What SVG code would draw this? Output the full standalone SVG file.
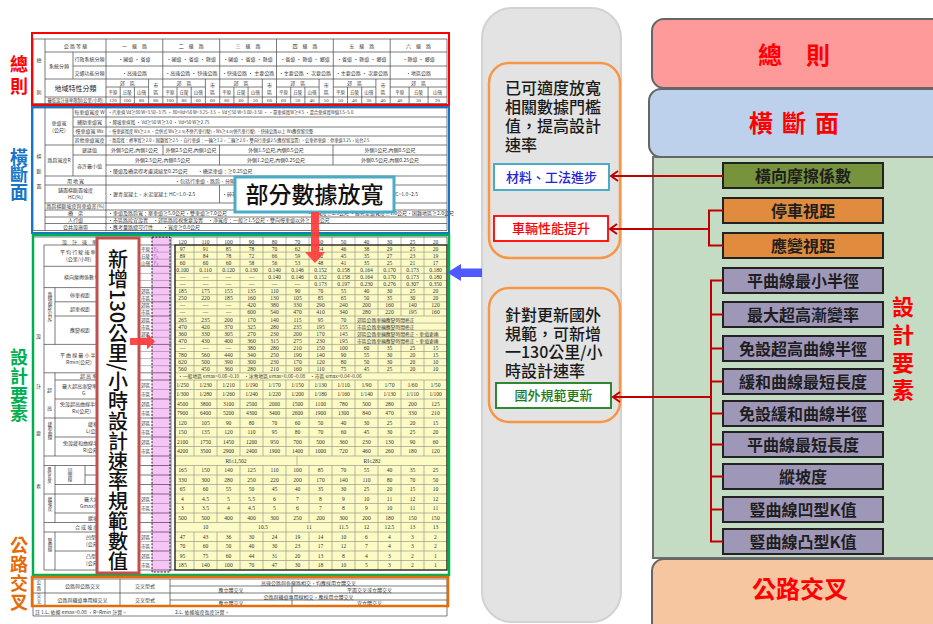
<svg xmlns="http://www.w3.org/2000/svg" width="933" height="624" viewBox="0 0 933 624">
<style>
.cjk{font-family:'Noto Sans CJK TC','Noto Sans CJK SC',sans-serif}
.t{font-family:'Noto Sans CJK TC','Noto Sans CJK SC',sans-serif;font-size:5px;fill:#3a3a3a}
.tm{text-anchor:middle}
.n{font-family:'Liberation Serif','Noto Sans CJK TC',serif;font-size:5.6px;fill:#333;text-anchor:middle}
.g{stroke:#8a8a8a;stroke-width:0.6;fill:none}
.gd{stroke:#444;stroke-width:0.7;fill:none}
.lbl{font-family:'Noto Sans CJK TC','Noto Sans CJK SC',sans-serif;font-size:18px;font-weight:bold;text-anchor:middle}
.nb rect{stroke:#222;stroke-width:2}
.nb text{font-family:'Noto Sans CJK TC','Noto Sans CJK SC',sans-serif;font-size:16px;font-weight:bold;fill:#1e1e1e;text-anchor:middle}
.big{font-family:'Noto Sans CJK TC','Noto Sans CJK SC',sans-serif;font-size:24px;font-weight:bold;fill:#ff0000;text-anchor:middle}
.mt{font-family:'Noto Sans CJK TC','Noto Sans CJK SC',sans-serif;font-size:16px;font-weight:500;fill:#1a1a1a}
.it{font-family:'Noto Sans CJK TC','Noto Sans CJK SC',sans-serif;font-size:13px;font-weight:500;text-anchor:middle}
.conn{stroke:#c00000;stroke-width:2;fill:none}
</style>
<defs>
<marker id="ah" markerWidth="12" markerHeight="12" refX="9" refY="6" orient="auto" markerUnits="userSpaceOnUse">
<path d="M2,1 L9,6 L2,11" fill="none" stroke="#c00000" stroke-width="2"/>
</marker>
</defs>
<rect width="933" height="624" fill="#ffffff"/>

<!-- ===================== LEFT TABLE ===================== -->
<g id="table">
<g id="sec-general">
<path class="gd" d="M33 39H447M45 52H447M73 66H447M45 79H447M106 87H148.6M162.8 87H205.4M219.7 87H262.3M276.5 87H319.1M333.3 87H375.9M390.2 87H447M45 97H447M33 103.5H447M33 39V103.5M45 39V103.5M73 52V79M106 39V103.5M162.8 39V103.5M219.7 39V103.5M276.5 39V103.5M333.3 39V103.5M390.2 39V103.5M447 39V103.5M120.2 87V103.5M134.4 87V103.5M148.6 79V103.5M177 87V103.5M191.2 87V103.5M205.4 79V103.5M233.9 87V103.5M248.1 87V103.5M262.3 79V103.5M290.7 87V103.5M304.9 87V103.5M319.1 79V103.5M347.5 87V103.5M361.7 87V103.5M375.9 79V103.5M409.1 87V103.5M428.1 87V103.5"/>
<text class="t tm" x="39" y="62">總</text><text class="t tm" x="39" y="94">則</text>
<text class="t tm" x="75.5" y="47.5">公 路 等 級</text>
<text class="t tm" y="47.5"><tspan x="134.4">一　級　路</tspan><tspan x="191.3">二　級　路</tspan><tspan x="248.1">三　級　路</tspan><tspan x="304.9">四　級　路</tspan><tspan x="361.8">五　級　路</tspan><tspan x="418.6">六　級　路</tspan></text>
<text class="t tm" x="59" y="67.5">系統分類</text>
<text class="t tm" x="89.5" y="61">行政系統分類</text>
<text class="t tm" x="89.5" y="74.5">交通功能分類</text>
<text class="t tm" y="61"><tspan x="134.4">·國道 · 省道</tspan><tspan x="191.3">·國道 · 省道 · 縣道</tspan><tspan x="248.1">·國道 · 省道 · 縣道</tspan><tspan x="304.9">·省道 · 縣道 · 鄉道</tspan><tspan x="361.8">·省道 · 縣道 · 鄉道</tspan><tspan x="418.6">·縣道 · 鄉道</tspan></text>
<text class="t tm" y="74.5"><tspan x="134.4">·高速公路</tspan><tspan x="191.3">·高速公路 · 快速公路</tspan><tspan x="248.1">·快速公路 · 主要公路</tspan><tspan x="304.9">·主要公路 · 次要公路</tspan><tspan x="361.8">·主要公路 · 次要公路</tspan><tspan x="418.6">·地區公路</tspan></text>
<text class="t tm" x="75.5" y="91" style="font-size:7px;fill:#222">地域特性分類</text>
<text class="t tm" y="84.8"><tspan x="127.3">郊　區</tspan><tspan x="184.1">郊　區</tspan><tspan x="241">郊　區</tspan><tspan x="297.8">郊　區</tspan><tspan x="354.6">郊　區</tspan><tspan x="418.6">郊　區</tspan></text>
<text class="t tm" y="86.5"><tspan x="155.7">市</tspan><tspan x="212.5">市</tspan><tspan x="269.4">市</tspan><tspan x="326.2">市</tspan><tspan x="383">市</tspan></text>
<text class="t tm" y="94"><tspan x="155.7">區</tspan><tspan x="212.5">區</tspan><tspan x="269.4">區</tspan><tspan x="326.2">區</tspan><tspan x="383">區</tspan></text>
<text class="t tm" y="93.5" style="font-size:4.5px"><tspan x="113.1">平原</tspan><tspan x="127.3">丘陵</tspan><tspan x="141.5">山嶺</tspan><tspan x="169.9">平原</tspan><tspan x="184.1">丘陵</tspan><tspan x="198.3">山嶺</tspan><tspan x="226.8">平原</tspan><tspan x="241">丘陵</tspan><tspan x="255.2">山嶺</tspan><tspan x="283.6">平原</tspan><tspan x="297.8">丘陵</tspan><tspan x="312">山嶺</tspan><tspan x="340.4">平原</tspan><tspan x="354.6">丘陵</tspan><tspan x="368.8">山嶺</tspan><tspan x="399.7">平原</tspan><tspan x="418.6">丘陵</tspan><tspan x="437.5">山嶺</tspan></text>
<text class="t tm" x="75.5" y="102" style="font-size:4.3px">最低設計速率限制(公里/小時)</text>
<text class="n" y="102" style="font-size:5px"><tspan x="113.1">120</tspan><tspan x="127.3">100</tspan><tspan x="141.5">80</tspan><tspan x="155.7">80</tspan><tspan x="169.9">100</tspan><tspan x="184.1">80</tspan><tspan x="198.3">60</tspan><tspan x="212.5">60</tspan><tspan x="226.8">80</tspan><tspan x="241">60</tspan><tspan x="255.2">50</tspan><tspan x="269.4">60</tspan><tspan x="283.6">60</tspan><tspan x="297.8">50</tspan><tspan x="312">40</tspan><tspan x="326.2">50</tspan><tspan x="340.4">50</tspan><tspan x="354.6">40</tspan><tspan x="368.8">30</tspan><tspan x="383">40</tspan><tspan x="399.7">40</tspan><tspan x="418.6">30</tspan><tspan x="437.5">20</tspan></text>
</g>

<g id="sec-cross">
<path class="gd" d="M33 108H447M73 117H447M73 127H447M73 136H447M45 145H447M73 155H447M106 165H447M45 176H447M45 185H447M45 203H447M45 210H447M45 217H447M45 223.5H447M33 230.5H447M33 108V230.5M45 108V230.5M73 108V176M106 108V230.5M447 108V230.5M163 145V155M219.5 145V165M333 145V165M219.5 185V203"/>
<text class="t tm" x="39" y="158">橫</text><text class="t tm" x="39" y="173">斷</text><text class="t tm" x="39" y="188">面</text>
<text class="t tm" x="59" y="125">車道寬</text><text class="t tm" x="59" y="132">(公尺)</text>
<text class="t tm" x="89.5" y="114.3">每車道寬度 W</text>
<text class="t tm" x="89.5" y="123.8">輔助車道寬</text>
<text class="t tm" x="89.5" y="133.3">慢車道寬 Ws</text>
<text class="t tm" x="89.5" y="142.3">其他車道寬度</text>
<text class="t" x="108" y="114.3" style="font-size:4.3px">·汽車道 Vd≥80 W=3.50~3.75 · 80&gt;Vd&gt;50 W=3.25~3.5 · Vd≤50 W=3.00~3.50 · ·單車道寬W≥4.5 ·混合車道寬W值3.5~5.0</text>
<text class="t" x="108" y="123.8" style="font-size:4.5px">·爬坡車道寬 · Vd≥50 W≥3.0 · Vd&lt;50 W≥2.75</text>
<text class="t" x="108" y="133.3" style="font-size:4.2px">·慢車道寬度 Ws≥2.8 ·合併式 Ws≥2.5(不併汽車行駛)，Ws≥4.0(併汽車行駛) ·快速公路以上 Ws應保留完整</text>
<text class="t" x="108" y="142.3" style="font-size:4.2px">·路肩寬：標準寬≥2.0，困難寬≥2.5 ·自行車道：一輛≥1.2，二輛≥2.0，雙向行車道2.5(應保留設置) ·公車停車道：停車道3.25，站台2.5</text>
<text class="t tm" x="59" y="162">路肩寬度R</text>
<text class="t tm" x="89.5" y="152">建議值</text>
<text class="t tm" x="89.5" y="167.5">容許最小值</text>
<text class="t tm" y="152"><tspan x="134.5">外側3公尺,內側1公尺</tspan><tspan x="191">外側2.5公尺,內側1公尺</tspan><tspan x="276">外側1.5公尺,內側0.5公尺</tspan><tspan x="390">外側1公尺,內側0.5公尺</tspan></text>
<text class="t tm" y="162"><tspan x="162.7">外側2.5公尺,內側0.5公尺</tspan><tspan x="276">外側1.2公尺,內側0.25公尺</tspan><tspan x="390">外側0.5公尺,內側0.25公尺</tspan></text>
<text class="t" x="108" y="172.5">·隧道及橋梁得考慮減縮至0.25公尺　　·橋梁車道：≥0.25公尺</text>
<text class="t tm" x="75.5" y="182.5">用 地 寬</text>
<text class="t" x="175" y="182.5">·包括行車道、路肩、分隔帶、人行道</text>
<text class="t tm" x="75.5" y="192">鋪面橫斷面坡度</text>
<text class="t tm" x="75.5" y="199">HC(%)</text>
<text class="t" x="108" y="195.5">·瀝青混凝土、水泥混凝土 HC=1.0~2.5</text>
<text class="t" x="222" y="195.5">·碎石路面、其他路面 HC=1.0~2.5</text>
<text class="t" x="418" y="195.5" style="text-anchor:end">HC=1.0~2.5</text>
<text class="t tm" x="75.5" y="208">路肩橫斷坡度與車道差(%)</text>
<text class="t tm" x="75.5" y="215">橋　梁</text>
<text class="t" x="108" y="215">·車道及路肩寬：單車道≥5.0公尺，雙車道≥7.0公尺</text>
<text class="t" x="307" y="215">·淨寬度≥2.5公尺 ·維修走道寬度≥1.0公尺，困難地區≥2.0公尺</text>
<text class="t tm" x="75.5" y="221.8">人行道</text>
<text class="t" x="108" y="221.8">·市區路段宜設置　·郊區路段視需要設置　·淨寬度：一般≥1.5公尺，雙向慢車道以外≥1.25公尺</text>
<text class="t tm" x="75.5" y="228.6">公共設施帶</text>
<text class="t" x="108" y="228.6">·應考量路燈可行性　　·寬度≥0.8公尺</text>
</g>

<g id="sec-design">
<rect x="175" y="245" width="272" height="325" fill="#fdfbc4"/>
<rect x="152" y="237" width="18" height="335" fill="#f6c4f6"/>
<path class="g" d="M175 252.1H447M175 259.2H447M175 266.3H447M175 273.4H447M175 280.5H447M175 287.6H447M175 294.7H447M175 301.8H447M175 308.9H447M175 316H447M175 323.1H447M175 330.2H447M175 337.3H447M175 344.4H447M175 351.5H447M175 358.6H447M175 365.7H447M175 372.8H447M175 380H447M175 389.5H447M175 399H447M175 408.5H447M175 418H447M175 427.5H447M175 437H447M175 446.5H447M175 456H447M175 465.5H447M175 475H447M175 484.5H447M175 494H447M175 503.5H447M175 513H447M175 522.5H447M175 532H447M175 541.5H447M175 551H447M175 560.5H447"/>
<path class="g" d="M194 237V372.8M194 380V456M194 465.5V522.5M194 532V570M217 237V372.8M217 380V456M217 465.5V522.5M217 532V570M240 237V372.8M240 380V456M240 465.5V570M263 237V372.8M263 380V456M263 465.5V522.5M263 532V570M286 237V372.8M286 380V456M286 465.5V570M309 237V372.8M309 380V456M309 465.5V522.5M309 532V570M332 237V372.8M332 380V456M332 465.5V570M355 237V372.8M355 380V456M355 465.5V570M378 237V316M378 344.4V372.8M378 380V456M378 465.5V570M401 237V316M401 344.4V372.8M401 380V456M401 465.5V570M424 237V316M424 344.4V372.8M424 380V456M424 465.5V570M297 456V465.5"/>
<path class="gd" d="M33 237H447M44 245H175M44 266.3H171M44 287.6H171M44 344.4H171M44 372.8H171M44 418H171M44 456H171M44 465.5H171M44 494H171M44 522.5H171M44 532H171M44 570H175M55 301.8H171M55 316H171M55 380H171M55 399H171M55 437H171M55 513H171M55 551H171M55 484.5H171M85 475H171M44 245V570M55 287.6V344.4M55 372.8V456M55 465.5V522.5M55 532V570M85 465.5V484.5M139 237V570M171 237V570M447 237V245"/>
<path class="g" d="M139 252.1H171M139 259.2H171M139 273.4H171M139 280.5H171M139 294.7H171M139 308.9H171M139 323.1H171M139 330.2H171M139 337.3H171M139 351.5H171M139 358.6H171M139 365.7H171M139 389.5H171M139 408.5H171M139 427.5H171M139 446.5H171M139 503.5H171M139 541.5H171M139 560.5H171"/>
<rect x="152" y="237" width="18" height="335" fill="none" stroke="#111" stroke-width="0.9" stroke-dasharray="2,1.4"/>
<rect x="175" y="245" width="272" height="325" fill="none" stroke="#111" stroke-width="1.3"/>
<text class="t tm" x="38.5" y="338">設</text><text class="t tm" x="38.5" y="388">計</text><text class="t tm" x="38.5" y="435">要</text><text class="t tm" x="38.5" y="488">素</text>
<text class="t" x="62" y="243.5">設　計　速　率（公里/小時）</text>
<text class="t" x="60" y="254">平 均 行 駛 速 率</text><text class="t" x="66" y="261">(公里/小時)</text>
<text class="t" x="64" y="279">橫向摩擦係數 f</text>
<text class="t" x="50" y="292" style="writing-mode:vertical-rl;font-size:4.5px">路線視距(公尺)</text>
<text class="t" x="70" y="296.7">停車視距</text><text class="t" x="70" y="310.9">超車視距</text><text class="t" x="70" y="332">應變視距</text>
<text class="t" x="60" y="357">平 曲 線 最 小 半 徑</text><text class="t" x="66" y="364">Rmin(公尺)</text>
<text class="t tm" x="49.5" y="392">超</text><text class="t tm" x="49.5" y="410">高</text>
<text class="t" x="80" y="378.3">超 高 率</text>
<text class="t" x="62" y="388">最大超高漸變率</text><text class="t" x="82" y="395">G</text>
<text class="t" x="60" y="406">免設超高曲線半徑</text><text class="t" x="72" y="413">Rs(公尺)</text>
<text class="t" x="50" y="422" style="writing-mode:vertical-rl;font-size:4.5px">緩和曲線</text>
<text class="t" x="88" y="425.5">緩和曲線最短長度</text><text class="t" x="86" y="432.5">L(公尺)</text>
<text class="t" x="63" y="444.5">免設緩和曲線半徑</text><text class="t" x="83" y="451.5">R(公尺)</text>
<text class="t" x="49.5" y="467" style="writing-mode:vertical-rl;font-size:4px">最短長度</text>
<text class="t" x="70" y="468" style="writing-mode:vertical-rl;font-size:4.5px">回曲線</text>
<text class="t" x="50" y="497" style="writing-mode:vertical-rl;font-size:4.5px">縱坡度</text>
<text class="t" x="84" y="500.7">最大縱坡度</text><text class="t" x="80" y="508">Gmax(%)</text>
<text class="t" x="88" y="519.7">縱坡長度限制</text>
<text class="t" x="75" y="529.2">合 成 坡 度</text>
<text class="t" x="50" y="538" style="writing-mode:vertical-rl;font-size:4.5px">豎曲線</text>
<text class="t" x="86" y="538.7">凹型K值</text><text class="t" x="86" y="546">(公尺)</text>
<text class="t" x="86" y="557.7">凸型K值</text><text class="t" x="86" y="565">(公尺)</text>
<text class="t tm" style="font-size:4.5px"><tspan x="145.5" y="250.5">平原</tspan><tspan x="145.5" y="257.6">丘陵</tspan><tspan x="145.5" y="264.7">山嶺</tspan><tspan x="145.5" y="293.1">郊區</tspan><tspan x="145.5" y="300.2">市區</tspan><tspan x="145.5" y="307.3">郊區</tspan><tspan x="145.5" y="314.4">市區</tspan><tspan x="145.5" y="321.5">郊區</tspan><tspan x="145.5" y="328.6">市區</tspan><tspan x="145.5" y="335.7">郊區</tspan><tspan x="145.5" y="342.8">市區</tspan><tspan x="145.5" y="386.7">郊區</tspan><tspan x="145.5" y="396.2">市區</tspan><tspan x="145.5" y="405.7">郊區</tspan><tspan x="145.5" y="415.2">市區</tspan><tspan x="145.5" y="424.7">郊區</tspan><tspan x="145.5" y="434.2">市區</tspan><tspan x="145.5" y="443.7">郊區</tspan><tspan x="145.5" y="453.2">市區</tspan><tspan x="145.5" y="500.7">郊區</tspan><tspan x="145.5" y="510.2">市區</tspan><tspan x="145.5" y="538.7">郊區</tspan><tspan x="145.5" y="548.2">市區</tspan><tspan x="145.5" y="557.7">郊區</tspan><tspan x="145.5" y="567.2">市區</tspan></text>
<text class="t" style="fill:#9933cc;font-size:4.5px"><tspan x="154" y="250.5">F₁</tspan><tspan x="154" y="257.6">F₂</tspan><tspan x="154" y="264.7">F₃</tspan></text>
<text class="n" y="243.5"><tspan x="182.5">120</tspan><tspan x="205.5">110</tspan><tspan x="228.5">100</tspan><tspan x="251.5">90</tspan><tspan x="274.5">80</tspan><tspan x="297.5">70</tspan><tspan x="320.5">60</tspan><tspan x="343.5">50</tspan><tspan x="366.5">40</tspan><tspan x="389.5">30</tspan><tspan x="412.5">25</tspan><tspan x="435.5">20</tspan></text>
<text class="n" y="250.5"><tspan x="182.5">97</tspan><tspan x="205.5">91</tspan><tspan x="228.5">85</tspan><tspan x="251.5">78</tspan><tspan x="274.5">70</tspan><tspan x="297.5">62</tspan><tspan x="320.5">54</tspan><tspan x="343.5">46</tspan><tspan x="366.5">38</tspan><tspan x="389.5">29</tspan><tspan x="412.5">25</tspan><tspan x="435.5">20</tspan></text>
<text class="n" y="257.6"><tspan x="182.5">89</tspan><tspan x="205.5">84</tspan><tspan x="228.5">78</tspan><tspan x="251.5">72</tspan><tspan x="274.5">66</tspan><tspan x="297.5">59</tspan><tspan x="320.5">52</tspan><tspan x="343.5">45</tspan><tspan x="366.5">35</tspan><tspan x="389.5">27</tspan><tspan x="412.5">23</tspan><tspan x="435.5">19</tspan></text>
<text class="n" y="264.7"><tspan x="182.5">60</tspan><tspan x="205.5">60</tspan><tspan x="228.5">60</tspan><tspan x="251.5">58</tspan><tspan x="274.5">56</tspan><tspan x="297.5">53</tspan><tspan x="320.5">48</tspan><tspan x="343.5">41</tspan><tspan x="366.5">35</tspan><tspan x="389.5">25</tspan><tspan x="412.5">21</tspan><tspan x="435.5">17</tspan></text>
<text class="n" y="271.8"><tspan x="182.5">0.100</tspan><tspan x="205.5">0.110</tspan><tspan x="228.5">0.120</tspan><tspan x="251.5">0.130</tspan><tspan x="274.5">0.140</tspan><tspan x="297.5">0.146</tspan><tspan x="320.5">0.152</tspan><tspan x="343.5">0.158</tspan><tspan x="366.5">0.164</tspan><tspan x="389.5">0.170</tspan><tspan x="412.5">0.173</tspan><tspan x="435.5">0.180</tspan></text>
<text class="n" y="278.9"><tspan x="182.5">—</tspan><tspan x="205.5">—</tspan><tspan x="228.5">—</tspan><tspan x="251.5">—</tspan><tspan x="274.5">0.140</tspan><tspan x="297.5">0.146</tspan><tspan x="320.5">0.152</tspan><tspan x="343.5">0.158</tspan><tspan x="366.5">0.164</tspan><tspan x="389.5">0.170</tspan><tspan x="412.5">0.173</tspan><tspan x="435.5">0.180</tspan></text>
<text class="n" y="286"><tspan x="182.5">—</tspan><tspan x="205.5">—</tspan><tspan x="228.5">—</tspan><tspan x="251.5">—</tspan><tspan x="274.5">—</tspan><tspan x="297.5">—</tspan><tspan x="320.5">0.173</tspan><tspan x="343.5">0.197</tspan><tspan x="366.5">0.230</tspan><tspan x="389.5">0.276</tspan><tspan x="412.5">0.307</tspan><tspan x="435.5">0.350</tspan></text>
<text class="n" y="293.1"><tspan x="182.5">185</tspan><tspan x="205.5">175</tspan><tspan x="228.5">155</tspan><tspan x="251.5">135</tspan><tspan x="274.5">110</tspan><tspan x="297.5">90</tspan><tspan x="320.5">70</tspan><tspan x="343.5">55</tspan><tspan x="366.5">40</tspan><tspan x="389.5">30</tspan><tspan x="412.5">25</tspan><tspan x="435.5">20</tspan></text>
<text class="n" y="300.2"><tspan x="182.5">250</tspan><tspan x="205.5">220</tspan><tspan x="228.5">185</tspan><tspan x="251.5">160</tspan><tspan x="274.5">130</tspan><tspan x="297.5">105</tspan><tspan x="320.5">85</tspan><tspan x="343.5">65</tspan><tspan x="366.5">50</tspan><tspan x="389.5">35</tspan><tspan x="412.5">30</tspan><tspan x="435.5">20</tspan></text>
<text class="n" y="307.3"><tspan x="182.5">—</tspan><tspan x="205.5">—</tspan><tspan x="228.5">—</tspan><tspan x="251.5">420</tspan><tspan x="274.5">380</tspan><tspan x="297.5">330</tspan><tspan x="320.5">290</tspan><tspan x="343.5">240</tspan><tspan x="366.5">200</tspan><tspan x="389.5">160</tspan><tspan x="412.5">140</tspan><tspan x="435.5">120</tspan></text>
<text class="n" y="314.4"><tspan x="182.5">—</tspan><tspan x="205.5">—</tspan><tspan x="228.5">—</tspan><tspan x="251.5">600</tspan><tspan x="274.5">540</tspan><tspan x="297.5">470</tspan><tspan x="320.5">410</tspan><tspan x="343.5">340</tspan><tspan x="366.5">280</tspan><tspan x="389.5">220</tspan><tspan x="412.5">195</tspan><tspan x="435.5">160</tspan></text>
<text class="n" y="321.5"><tspan x="182.5">265</tspan><tspan x="205.5">235</tspan><tspan x="228.5">200</tspan><tspan x="251.5">170</tspan><tspan x="274.5">140</tspan><tspan x="297.5">115</tspan><tspan x="320.5">95</tspan><tspan x="343.5">70</tspan></text>
<text class="n" y="328.6"><tspan x="182.5">470</tspan><tspan x="205.5">420</tspan><tspan x="228.5">370</tspan><tspan x="251.5">325</tspan><tspan x="274.5">280</tspan><tspan x="297.5">235</tspan><tspan x="320.5">195</tspan><tspan x="343.5">155</tspan></text>
<text class="n" y="335.7"><tspan x="182.5">360</tspan><tspan x="205.5">330</tspan><tspan x="228.5">305</tspan><tspan x="251.5">270</tspan><tspan x="274.5">230</tspan><tspan x="297.5">200</tspan><tspan x="320.5">170</tspan><tspan x="343.5">145</tspan></text>
<text class="n" y="342.8"><tspan x="182.5">470</tspan><tspan x="205.5">430</tspan><tspan x="228.5">400</tspan><tspan x="251.5">360</tspan><tspan x="274.5">315</tspan><tspan x="297.5">275</tspan><tspan x="320.5">230</tspan><tspan x="343.5">195</tspan></text>
<text class="t" style="font-size:4.8px"><tspan x="357" y="321.5">郊區公路車輛應變時間修正</tspan><tspan x="357" y="328.6">市區公路車輛應變時間修正</tspan><tspan x="357" y="335.7">郊區公路車輛應變時間修正、車道更換</tspan><tspan x="357" y="342.8">市區公路車輛應變時間修正、車道更換</tspan></text>
<text class="n" y="349.9"><tspan x="182.5">—</tspan><tspan x="205.5">—</tspan><tspan x="228.5">—</tspan><tspan x="251.5">380</tspan><tspan x="274.5">280</tspan><tspan x="297.5">210</tspan><tspan x="320.5">150</tspan><tspan x="343.5">100</tspan><tspan x="366.5">60</tspan><tspan x="389.5">35</tspan><tspan x="412.5">25</tspan><tspan x="435.5">15</tspan></text>
<text class="n" y="357"><tspan x="182.5">780</tspan><tspan x="205.5">560</tspan><tspan x="228.5">440</tspan><tspan x="251.5">340</tspan><tspan x="274.5">250</tspan><tspan x="297.5">190</tspan><tspan x="320.5">140</tspan><tspan x="343.5">90</tspan><tspan x="366.5">55</tspan><tspan x="389.5">30</tspan><tspan x="412.5">20</tspan><tspan x="435.5">15</tspan></text>
<text class="n" y="364.1"><tspan x="182.5">620</tspan><tspan x="205.5">500</tspan><tspan x="228.5">390</tspan><tspan x="251.5">300</tspan><tspan x="274.5">230</tspan><tspan x="297.5">170</tspan><tspan x="320.5">120</tspan><tspan x="343.5">80</tspan><tspan x="366.5">50</tspan><tspan x="389.5">30</tspan><tspan x="412.5">20</tspan><tspan x="435.5">10</tspan></text>
<text class="n" y="371.2"><tspan x="182.5">560</tspan><tspan x="205.5">450</tspan><tspan x="228.5">360</tspan><tspan x="251.5">280</tspan><tspan x="274.5">210</tspan><tspan x="297.5">160</tspan><tspan x="320.5">110</tspan><tspan x="343.5">75</tspan><tspan x="366.5">45</tspan><tspan x="389.5">25</tspan><tspan x="412.5">20</tspan><tspan x="435.5">10</tspan></text>
<text class="t" x="178" y="378.3" style="font-size:4.8px">·一般地區 emax=0.06~0.10　·冰雪地區 emax=0.06~0.08　·市區 emax=0.04~0.06</text>
<text class="n" y="386.7"><tspan x="182.5">1/250</tspan><tspan x="205.5">1/230</tspan><tspan x="228.5">1/210</tspan><tspan x="251.5">1/190</tspan><tspan x="274.5">1/170</tspan><tspan x="297.5">1/150</tspan><tspan x="320.5">1/130</tspan><tspan x="343.5">1/110</tspan><tspan x="366.5">1/90</tspan><tspan x="389.5">1/70</tspan><tspan x="412.5">1/60</tspan><tspan x="435.5">1/50</tspan></text>
<text class="n" y="396.2"><tspan x="182.5">1/300</tspan><tspan x="205.5">1/280</tspan><tspan x="228.5">1/260</tspan><tspan x="251.5">1/240</tspan><tspan x="274.5">1/220</tspan><tspan x="297.5">1/200</tspan><tspan x="320.5">1/180</tspan><tspan x="343.5">1/160</tspan><tspan x="366.5">1/140</tspan><tspan x="389.5">1/130</tspan><tspan x="412.5">1/110</tspan><tspan x="435.5">1/100</tspan></text>
<text class="n" y="405.7"><tspan x="182.5">4500</tspan><tspan x="205.5">3800</tspan><tspan x="228.5">3100</tspan><tspan x="251.5">2500</tspan><tspan x="274.5">2000</tspan><tspan x="297.5">1500</tspan><tspan x="320.5">1100</tspan><tspan x="343.5">780</tspan><tspan x="366.5">500</tspan><tspan x="389.5">280</tspan><tspan x="412.5">200</tspan><tspan x="435.5">125</tspan></text>
<text class="n" y="415.2"><tspan x="182.5">7900</tspan><tspan x="205.5">6400</tspan><tspan x="228.5">5200</tspan><tspan x="251.5">4300</tspan><tspan x="274.5">3400</tspan><tspan x="297.5">2600</tspan><tspan x="320.5">1900</tspan><tspan x="343.5">1300</tspan><tspan x="366.5">840</tspan><tspan x="389.5">470</tspan><tspan x="412.5">330</tspan><tspan x="435.5">210</tspan></text>
<text class="n" y="424.7"><tspan x="182.5">120</tspan><tspan x="205.5">105</tspan><tspan x="228.5">90</tspan><tspan x="251.5">80</tspan><tspan x="274.5">70</tspan><tspan x="297.5">60</tspan><tspan x="320.5">50</tspan><tspan x="343.5">40</tspan><tspan x="366.5">30</tspan><tspan x="389.5">25</tspan><tspan x="412.5">20</tspan><tspan x="435.5">15</tspan></text>
<text class="n" y="434.2"><tspan x="182.5">150</tspan><tspan x="205.5">135</tspan><tspan x="228.5">120</tspan><tspan x="251.5">110</tspan><tspan x="274.5">95</tspan><tspan x="297.5">80</tspan><tspan x="320.5">70</tspan><tspan x="343.5">60</tspan><tspan x="366.5">45</tspan><tspan x="389.5">30</tspan><tspan x="412.5">25</tspan><tspan x="435.5">20</tspan></text>
<text class="n" y="443.7"><tspan x="182.5">2100</tspan><tspan x="205.5">1750</tspan><tspan x="228.5">1450</tspan><tspan x="251.5">1200</tspan><tspan x="274.5">950</tspan><tspan x="297.5">700</tspan><tspan x="320.5">500</tspan><tspan x="343.5">360</tspan><tspan x="366.5">230</tspan><tspan x="389.5">130</tspan><tspan x="412.5">90</tspan><tspan x="435.5">60</tspan></text>
<text class="n" y="453.2"><tspan x="182.5">4200</tspan><tspan x="205.5">3500</tspan><tspan x="228.5">2900</tspan><tspan x="251.5">2400</tspan><tspan x="274.5">1900</tspan><tspan x="297.5">1400</tspan><tspan x="320.5">1000</tspan><tspan x="343.5">720</tspan><tspan x="366.5">460</tspan><tspan x="389.5">260</tspan><tspan x="412.5">180</tspan><tspan x="435.5">120</tspan></text>
<text class="n" y="462.7"><tspan x="236">RI≤1,502</tspan><tspan x="372">RI≤282</tspan></text>
<text class="n" y="472.2"><tspan x="182.5">165</tspan><tspan x="205.5">150</tspan><tspan x="228.5">140</tspan><tspan x="251.5">125</tspan><tspan x="274.5">110</tspan><tspan x="297.5">100</tspan><tspan x="320.5">85</tspan><tspan x="343.5">70</tspan><tspan x="366.5">55</tspan><tspan x="389.5">40</tspan><tspan x="412.5">35</tspan><tspan x="435.5">25</tspan></text>
<text class="n" y="481.7"><tspan x="182.5">330</tspan><tspan x="205.5">300</tspan><tspan x="228.5">280</tspan><tspan x="251.5">250</tspan><tspan x="274.5">220</tspan><tspan x="297.5">200</tspan><tspan x="320.5">170</tspan><tspan x="343.5">140</tspan><tspan x="366.5">110</tspan><tspan x="389.5">80</tspan><tspan x="412.5">70</tspan><tspan x="435.5">50</tspan></text>
<text class="n" y="491.2"><tspan x="182.5">65</tspan><tspan x="205.5">60</tspan><tspan x="228.5">55</tspan><tspan x="251.5">50</tspan><tspan x="274.5">45</tspan><tspan x="297.5">40</tspan><tspan x="320.5">35</tspan><tspan x="343.5">30</tspan><tspan x="366.5">25</tspan><tspan x="389.5">20</tspan><tspan x="412.5">15</tspan><tspan x="435.5">10</tspan></text>
<text class="n" y="500.7"><tspan x="182.5">4</tspan><tspan x="205.5">4.5</tspan><tspan x="228.5">5</tspan><tspan x="251.5">5.5</tspan><tspan x="274.5">6</tspan><tspan x="297.5">7</tspan><tspan x="320.5">8</tspan><tspan x="343.5">9</tspan><tspan x="366.5">10</tspan><tspan x="389.5">11</tspan><tspan x="412.5">12</tspan><tspan x="435.5">12</tspan></text>
<text class="n" y="510.2"><tspan x="182.5">3</tspan><tspan x="205.5">3.5</tspan><tspan x="228.5">4</tspan><tspan x="251.5">4.5</tspan><tspan x="274.5">5</tspan><tspan x="297.5">6</tspan><tspan x="320.5">7</tspan><tspan x="343.5">8</tspan><tspan x="366.5">9</tspan><tspan x="389.5">10</tspan><tspan x="412.5">11</tspan><tspan x="435.5">11</tspan></text>
<text class="n" y="519.7"><tspan x="182.5">500</tspan><tspan x="205.5">500</tspan><tspan x="228.5">400</tspan><tspan x="251.5">400</tspan><tspan x="274.5">300</tspan><tspan x="297.5">250</tspan><tspan x="320.5">200</tspan><tspan x="343.5">300</tspan><tspan x="366.5">200</tspan><tspan x="389.5">180</tspan><tspan x="412.5">150</tspan><tspan x="435.5">150</tspan></text>
<text class="n" y="529.2"><tspan x="205.5">10</tspan><tspan x="263">10.5</tspan><tspan x="309">11</tspan><tspan x="343.5">11.5</tspan><tspan x="366.5">12</tspan><tspan x="389.5">12.5</tspan><tspan x="412.5">13</tspan><tspan x="435.5">13</tspan></text>
<text class="n" y="538.7"><tspan x="182.5">47</tspan><tspan x="205.5">43</tspan><tspan x="228.5">36</tspan><tspan x="251.5">30</tspan><tspan x="274.5">24</tspan><tspan x="297.5">19</tspan><tspan x="320.5">14</tspan><tspan x="343.5">10</tspan><tspan x="366.5">6</tspan><tspan x="389.5">4</tspan><tspan x="412.5">3</tspan><tspan x="435.5">2</tspan></text>
<text class="n" y="548.2"><tspan x="182.5">70</tspan><tspan x="205.5">60</tspan><tspan x="228.5">50</tspan><tspan x="251.5">40</tspan><tspan x="274.5">30</tspan><tspan x="297.5">23</tspan><tspan x="320.5">17</tspan><tspan x="343.5">12</tspan><tspan x="366.5">7</tspan><tspan x="389.5">4</tspan><tspan x="412.5">3</tspan><tspan x="435.5">2</tspan></text>
<text class="n" y="557.7"><tspan x="182.5">95</tspan><tspan x="205.5">75</tspan><tspan x="228.5">60</tspan><tspan x="251.5">44</tspan><tspan x="274.5">31</tspan><tspan x="297.5">20</tspan><tspan x="320.5">13</tspan><tspan x="343.5">8</tspan><tspan x="366.5">4</tspan><tspan x="389.5">3</tspan><tspan x="412.5">2</tspan><tspan x="435.5">1</tspan></text>
<text class="n" y="567.2"><tspan x="182.5">185</tspan><tspan x="205.5">140</tspan><tspan x="228.5">100</tspan><tspan x="251.5">70</tspan><tspan x="274.5">47</tspan><tspan x="297.5">30</tspan><tspan x="320.5">18</tspan><tspan x="343.5">10</tspan><tspan x="366.5">5</tspan><tspan x="389.5">3</tspan><tspan x="412.5">2</tspan><tspan x="435.5">1</tspan></text>
</g>

<g id="sec-intersection">
<path class="gd" d="M33 579H447M170 586H447M33 593H447M170 600H447M33 606H447M33 579V606M45 579V606M120 579V606M170 579V606M447 579V606M292 586V593M292 600V606M33 616H447M33 606V616M447 606V616"/>
<text class="t tm" style="font-size:4.3px"><tspan x="39" y="584">公</tspan><tspan x="39" y="590">路</tspan><tspan x="39" y="597">交</tspan><tspan x="39" y="603">叉</tspan></text>
<text class="t tm" x="82.5" y="588">公路與公路交叉</text>
<text class="t tm" x="145" y="588">交叉型式</text>
<text class="t tm" x="308.5" y="584.5">高速公路與各級路相交，均應採用立體交叉</text>
<text class="t tm" x="231" y="591.5">應立體交叉</text>
<text class="t tm" x="369.5" y="591.5">平面交叉或立體交叉</text>
<text class="t tm" x="82.5" y="602">公路與鐵道專用線交叉</text>
<text class="t tm" x="145" y="602">交叉型式</text>
<text class="t tm" x="308.5" y="598.5">公路與鐵道專用線相交，應採用立體交叉</text>
<text class="t tm" x="231" y="605">應立體交叉</text>
<text class="t tm" x="369.5" y="605">宜立體交叉</text>
<text class="t" x="35" y="614">註 1.L. 依據 emax=0.08 ，R=Rmin 計算。</text>
<text class="t" x="175" y="614">2.L. 依據坡度長度計算。</text>
</g>

<rect x="32" y="33" width="417" height="72" fill="none" stroke="#ff0000" stroke-width="2"/>
<rect x="32" y="107" width="417" height="126" fill="none" stroke="#1874c8" stroke-width="2"/>
<rect x="33" y="235" width="416" height="340" fill="none" stroke="#00b050" stroke-width="2.5"/>
<rect x="32" y="577" width="416" height="29" fill="none" stroke="#e46c0a" stroke-width="2.5"/>
</g>

<g id="left-labels">
<text class="lbl" fill="#ff0000"><tspan x="19" y="71">總</tspan><tspan x="19" y="93">則</tspan></text>
<text class="lbl" fill="#1874c8"><tspan x="19" y="163.5">橫</tspan><tspan x="19" y="181">斷</tspan><tspan x="19" y="198.5">面</tspan></text>
<text class="lbl" fill="#00b050"><tspan x="19" y="363.5">設</tspan><tspan x="19" y="383">計</tspan><tspan x="19" y="401.5">要</tspan><tspan x="19" y="420">素</tspan></text>
<text class="lbl" fill="#e46c0a"><tspan x="19" y="551.5">公</tspan><tspan x="19" y="570.5">路</tspan><tspan x="19" y="589.5">交</tspan><tspan x="19" y="608.5">叉</tspan></text>
</g>

<g id="callout-relax">
<rect x="235" y="177" width="159" height="35" fill="#ffffff" stroke="#4bacc6" stroke-width="3"/>
<text class="cjk" x="314.5" y="203" font-size="23" font-weight="500" text-anchor="middle" fill="#111">部分數據放寬</text>
</g>
<g id="callout-new130">
<rect x="97" y="238" width="42" height="335" fill="#ffffff" stroke="#c0504d" stroke-width="3"/>
<text class="cjk" x="118" y="249" font-size="20" font-weight="500" fill="#111" style="writing-mode:vertical-rl">新增130公里/小時設計速率規範數值</text>
</g>

<g id="middle-panel">
<rect x="482" y="8" width="139" height="614" rx="30" fill="#e3e3e3" stroke="#d2d2d2" stroke-width="2"/>
</g>
<g id="reason-relax">
<rect x="489" y="63" width="131" height="195" rx="20" fill="none" stroke="#f79646" stroke-width="2.5"/>
<text class="mt"><tspan x="505" y="94">已可適度放寬</tspan><tspan x="505" y="113">相關數據門檻</tspan><tspan x="505" y="132">值，提高設計</tspan><tspan x="505" y="151">速率</tspan></text>
</g>
<g id="n-material">
<rect x="494" y="164" width="115" height="26" fill="#ffffff" stroke="#4bacc6" stroke-width="2"/>
<text class="it" x="551.5" y="181.5" fill="#2323d6">材料、工法進步</text>
</g>
<g id="n-vehicle">
<rect x="494" y="216" width="114" height="25" fill="#ffffff" stroke="#ff0000" stroke-width="1.8"/>
<text class="it" x="551" y="233" fill="#ff0000">車輛性能提升</text>
</g>
<g id="reason-new">
<rect x="489" y="288" width="131" height="134" rx="20" fill="none" stroke="#f79646" stroke-width="2.5"/>
<text class="mt"><tspan x="505" y="321">針對更新國外</tspan><tspan x="505" y="339.5">規範，可新增</tspan><tspan x="505" y="358">一130公里/小</tspan><tspan x="505" y="376.5">時設計速率</tspan></text>
</g>
<g id="n-foreign">
<rect x="496" y="383" width="115" height="25" fill="#ffffff" stroke="#1e7b1e" stroke-width="1.8"/>
<text class="it" x="553.5" y="400" fill="#1e7b1e">國外規範更新</text>
</g>

<g id="band-design">
<rect x="653" y="157" width="300" height="401" fill="#c4dbc4" stroke="#707070" stroke-width="2"/>
<text class="big" style="font-size:22px"><tspan x="903" y="315">設</tspan><tspan x="903" y="343">計</tspan><tspan x="903" y="371">要</tspan><tspan x="903" y="398">素</tspan></text>
</g>
<g id="band-general">
<rect x="652" y="19" width="300" height="69" rx="12" fill="#fe9a9a" stroke="#666" stroke-width="2"/>
<text class="big"><tspan x="770" y="64">總</tspan><tspan x="818" y="64">則</tspan></text>
</g>
<g id="band-cross">
<rect x="649" y="89" width="303" height="68" rx="12" fill="#bdd0ec" stroke="#666" stroke-width="2"/>
<text class="big"><tspan x="761" y="132">橫</tspan><tspan x="794" y="132">斷</tspan><tspan x="827" y="132">面</tspan></text>
</g>
<g id="band-intersection">
<rect x="652" y="559" width="300" height="80" rx="12" fill="#f5c6a0" stroke="#666" stroke-width="2"/>
<text class="big" x="800" y="598">公路交叉</text>
</g>

<g id="n-friction" class="nb"><rect x="723" y="163" width="160" height="25" fill="#77933c"/><text x="803" y="181.5">橫向摩擦係數</text></g>
<g id="n-stop" class="nb"><rect x="723" y="198" width="160" height="25" fill="#e08b3d"/><text x="803" y="216.5">停車視距</text></g>
<g id="n-decision" class="nb"><rect x="723" y="233" width="160" height="25" fill="#e08b3d"/><text x="803" y="251.5">應變視距</text></g>
<g id="n-rmin" class="nb"><rect x="723" y="268" width="160" height="25" fill="#9e97b8"/><text x="803" y="286.5">平曲線最小半徑</text></g>
<g id="n-superrate" class="nb"><rect x="723" y="302" width="160" height="25" fill="#9e97b8"/><text x="803" y="320.5">最大超高漸變率</text></g>
<g id="n-nosuper" class="nb"><rect x="723" y="336" width="160" height="25" fill="#9e97b8"/><text x="803" y="354.5">免設超高曲線半徑</text></g>
<g id="n-spiral" class="nb"><rect x="723" y="369" width="160" height="25" fill="#9e97b8"/><text x="803" y="387.5">緩和曲線最短長度</text></g>
<g id="n-nospiral" class="nb"><rect x="723" y="401" width="160" height="25" fill="#9e97b8"/><text x="803" y="419.5">免設緩和曲線半徑</text></g>
<g id="n-curvelen" class="nb"><rect x="723" y="432" width="160" height="25" fill="#9e97b8"/><text x="803" y="450.5">平曲線最短長度</text></g>
<g id="n-grade" class="nb"><rect x="723" y="464" width="160" height="25" fill="#9e97b8"/><text x="803" y="482.5">縱坡度</text></g>
<g id="n-sag" class="nb"><rect x="723" y="497" width="160" height="25" fill="#9e97b8"/><text x="803" y="515.5">豎曲線凹型K值</text></g>
<g id="n-crest" class="nb"><rect x="723" y="529" width="160" height="25" fill="#9e97b8"/><text x="803" y="547.5">豎曲線凸型K值</text></g>

<g id="connectors">
<path class="conn" d="M723 176H611" marker-end="url(#ah)"/>
<path class="conn" d="M723 210.5H709V245.5H723M709 229H610" marker-end="url(#ah)"/>
<path class="conn" d="M723 280.5H711V541.5H723M711 314.5H723M711 348.5H723M711 381.5H723M711 413.5H723M711 444.5H723M711 476.5H723M711 509.5H723"/>
<path class="conn" d="M711 397H613" marker-end="url(#ah)"/>
<polygon points="447,272.5 461,264 461,268.5 482,268.5 482,277 461,277 461,281" fill="#5058ff"/>
<polygon points="311,212 319,212 319,252 325,252 315,263 305,252 311,252" fill="#ff3b3b" fill-opacity="0.92"/>
<polygon points="130,338 147,338 147,333.5 155,341.5 147,349.5 147,345 130,345" fill="#ff3b3b" fill-opacity="0.92"/>
</g>
</svg>
